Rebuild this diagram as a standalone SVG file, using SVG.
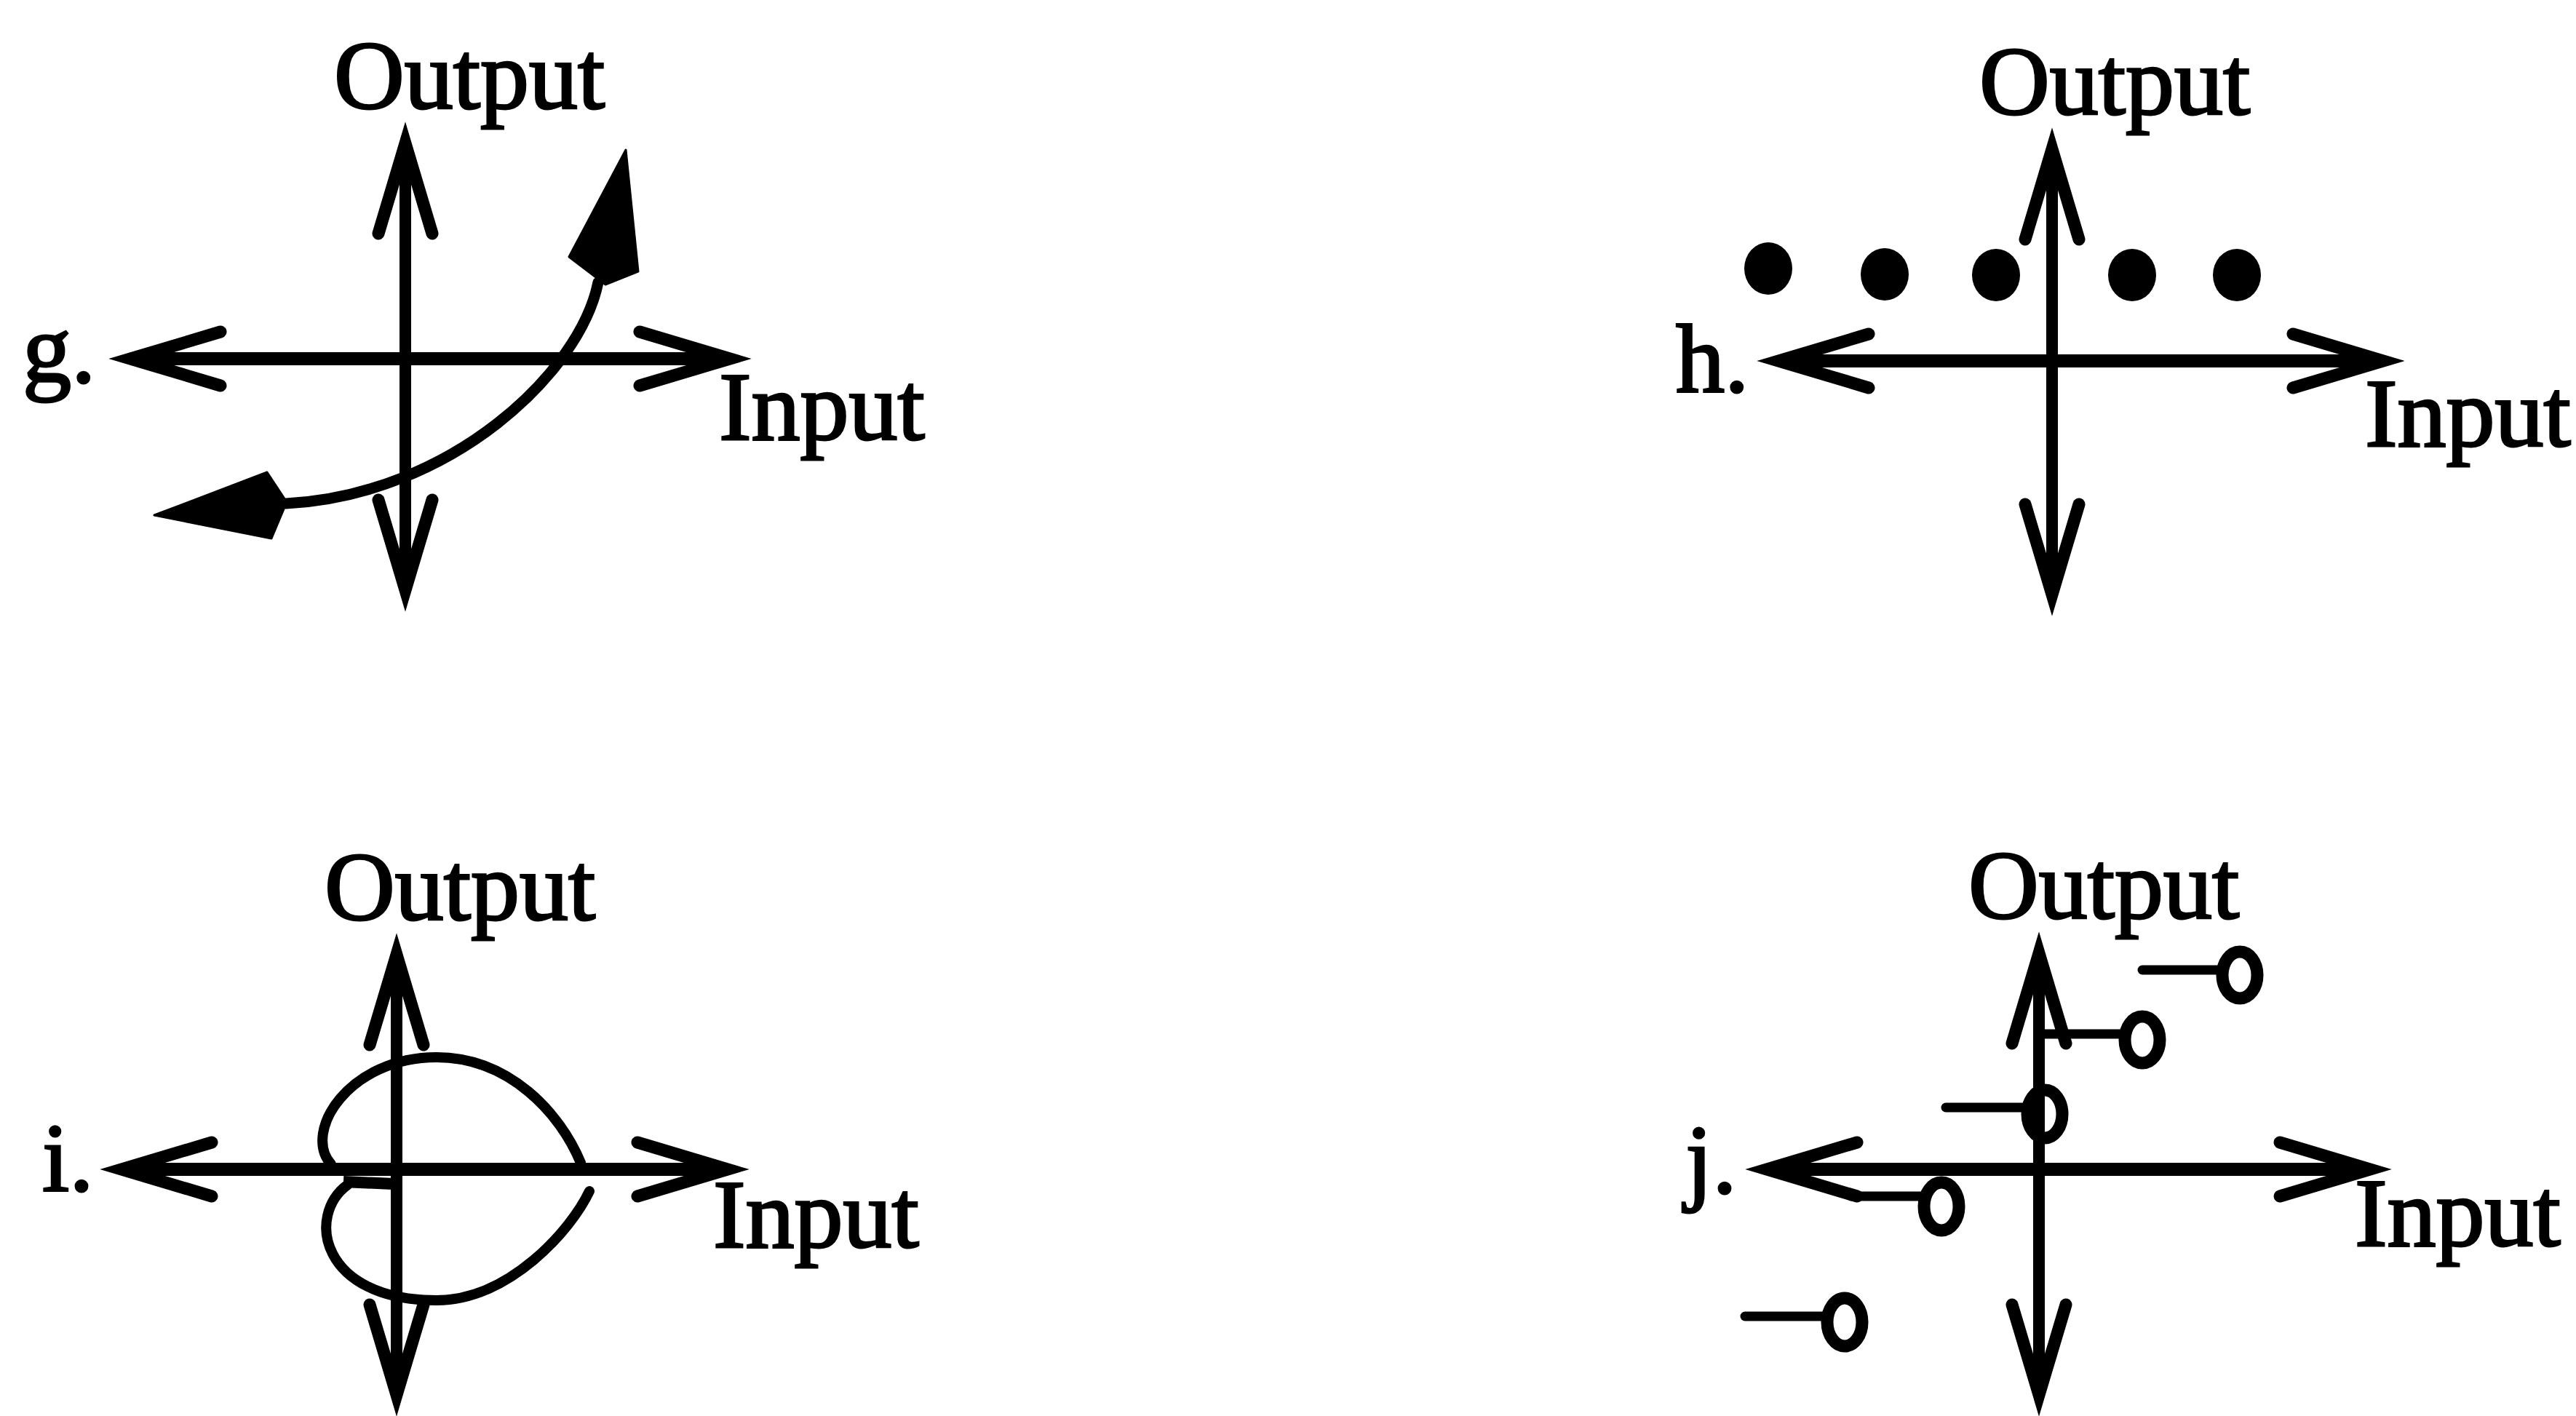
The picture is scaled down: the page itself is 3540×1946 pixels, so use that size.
<svg xmlns="http://www.w3.org/2000/svg" width="3540" height="1946" viewBox="0 0 3540 1946">
  <style>
    .lbl { font-family: "Liberation Serif", "Times New Roman", serif; font-size: 134px; fill: #000; stroke: #000; stroke-width: 3; }
    .axis { fill: none; stroke: #000; stroke-linecap: butt; }
    .axh { stroke-width: 18; }
    .axv { stroke-width: 16; }
    .curve { fill: none; stroke: #000; stroke-width: 15; stroke-linecap: round; }
    .thin { fill: none; stroke: #000; stroke-width: 14; stroke-linecap: round; }
    .stick { fill: none; stroke: #000; stroke-width: 13; stroke-linecap: round; }
    .ring { fill: none; stroke: #000; stroke-width: 17; }
    .solid { fill: #000; stroke: #000; stroke-width: 3; stroke-linejoin: round; }
  </style>
  <defs>
    <!-- open V arrowhead; tip sits 30 units beyond the line end -->
    <marker id="vee" markerUnits="userSpaceOnUse" orient="auto-start-reverse" refX="-30" refY="0" markerWidth="10" markerHeight="10" overflow="visible">
      <path d="M -153 -37 L -29 0 L -153 37" fill="none" stroke="#000" stroke-width="17" stroke-linecap="round" stroke-miterlimit="10"/>
    </marker>
  </defs>
  <rect width="3540" height="1946" fill="#fff"/>

  <!-- axes of the four panels -->
  <g id="connectors">
    <!-- g -->
    <line class="axis axh" x1="180" y1="493" x2="1002" y2="493" marker-start="url(#vee)" marker-end="url(#vee)"/>
    <line class="axis axv" x1="557" y1="198" x2="557" y2="810" marker-start="url(#vee)" marker-end="url(#vee)"/>
    <!-- h -->
    <line class="axis axh" x1="2445" y1="496" x2="3274" y2="496" marker-start="url(#vee)" marker-end="url(#vee)"/>
    <line class="axis axv" x1="2820" y1="206" x2="2820" y2="816" marker-start="url(#vee)" marker-end="url(#vee)"/>
    <!-- i -->
    <line class="axis axh" x1="168" y1="1607" x2="999" y2="1607" marker-start="url(#vee)" marker-end="url(#vee)"/>
    <line class="axis axv" x1="545" y1="1313" x2="545" y2="1916" marker-start="url(#vee)" marker-end="url(#vee)"/>
    <!-- j -->
    <line class="axis axh" x1="2429" y1="1607" x2="3256" y2="1607" marker-start="url(#vee)" marker-end="url(#vee)"/>
    <line class="axis axv" x1="2802" y1="1311" x2="2802" y2="1916" marker-start="url(#vee)" marker-end="url(#vee)"/>
  </g>

  <!-- panel g: curve with solid heads at both ends -->
  <g id="panel-g">
    <text class="lbl" x="459" y="149">Output</text>
    <text class="lbl" x="31" y="525">g.</text>
    <text class="lbl" x="988" y="604">Input</text>
    <path class="curve" d="M 822 388 C 797 512 620 680 393 692"/>
    <path class="solid" d="M 860 206 L 877 373 L 832 391 L 782 353 Z"/>
    <path class="solid" d="M 212 708 L 367 649 L 394 690 L 373 740 Z"/>
  </g>

  <!-- panel h: row of dots -->
  <g id="panel-h">
    <text class="lbl" x="2720" y="157">Output</text>
    <text class="lbl" x="2303" y="538">h.</text>
    <text class="lbl" x="3250" y="613">Input</text>
    <ellipse cx="2430" cy="369" rx="33" ry="36"/>
    <ellipse cx="2590" cy="377" rx="33" ry="36"/>
    <ellipse cx="2743" cy="378" rx="33" ry="36"/>
    <ellipse cx="2930" cy="378" rx="33" ry="36"/>
    <ellipse cx="3074" cy="378" rx="33" ry="36"/>
  </g>

  <!-- panel i: heart-shaped loop -->
  <g id="panel-i">
    <text class="lbl" x="446" y="1264">Output</text>
    <text class="lbl" x="58" y="1636">i.</text>
    <text class="lbl" x="980" y="1714">Input</text>
    <path class="thin" d="M 455 1600 C 415 1555 480 1453 600 1453 C 700 1453 770 1530 798 1598"/>
    <path class="thin" d="M 478 1628 C 420 1670 440 1787 600 1787 C 700 1787 785 1690 810 1637"/>
    <path d="M 472 1624 L 540 1627" stroke="#000" stroke-width="16" fill="none"/>
  </g>

  <!-- panel j: scattered stick-and-ring marks -->
  <g id="panel-j">
    <text class="lbl" x="2705" y="1262">Output</text>
    <text class="lbl" x="2316" y="1639">j.</text>
    <text class="lbl" x="3236" y="1712">Input</text>
    <line class="stick" x1="2944" y1="1333" x2="3052" y2="1333"/>
    <ellipse class="ring" cx="3078" cy="1340" rx="24" ry="32"/>
    <line class="stick" x1="2810" y1="1421" x2="2918" y2="1421"/>
    <ellipse class="ring" cx="2944" cy="1429" rx="24" ry="32"/>
    <line class="stick" x1="2674" y1="1522" x2="2784" y2="1522"/>
    <ellipse class="ring" cx="2810" cy="1531" rx="24" ry="33"/>
    <line class="stick" x1="2544" y1="1644" x2="2642" y2="1644"/>
    <ellipse class="ring" cx="2668" cy="1658" rx="24" ry="33"/>
    <line class="stick" x1="2398" y1="1809" x2="2508" y2="1809"/>
    <ellipse class="ring" cx="2535" cy="1817" rx="24" ry="33"/>
  </g>
</svg>
